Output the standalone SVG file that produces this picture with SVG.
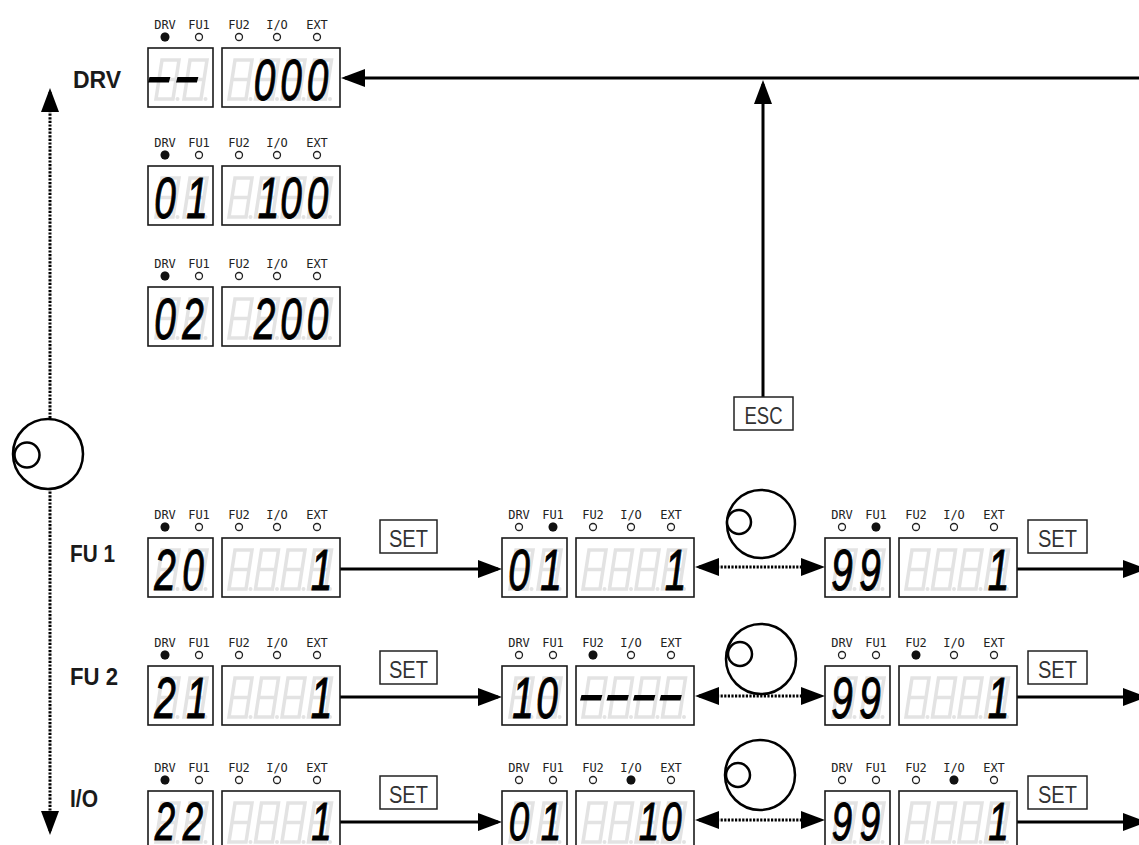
<svg xmlns="http://www.w3.org/2000/svg" width="1139" height="845" viewBox="0 0 1139 845">
<style>
.box{fill:none;stroke:#1a1a1a;stroke-width:1.6}
.led{font-family:"DejaVu Sans Mono","Liberation Mono",monospace;font-size:12px;fill:#222;text-anchor:middle}
.lh{fill:#fff;stroke:#222;stroke-width:1.3}
.lf{fill:#111}
.dig{font-family:"Liberation Sans",Arial,sans-serif;font-style:italic;font-size:57px;fill:#000;stroke:#000;stroke-width:1;text-anchor:middle}
.dig.low{font-size:54px}
.gh{fill:none;stroke:#e3e3e3;stroke-width:3.5}
.ghd{fill:#e3e3e3}
.key rect{fill:#fff;stroke:#222;stroke-width:1.5}
.key text{font-family:"Liberation Sans",Arial,sans-serif;font-size:24px;fill:#333}
.lbl{font-family:"Liberation Sans",Arial,sans-serif;font-weight:bold;font-size:23px;fill:#1a1a1a}
.dial circle{fill:#fff;stroke:#000;stroke-width:2.5}
.conn{fill:none;stroke:#000;stroke-width:3}
.dot{stroke-dasharray:2.2 1.4}
</style>
<defs>
<marker id="ah" viewBox="0 0 24 18" refX="20" refY="9" markerWidth="24" markerHeight="18" markerUnits="userSpaceOnUse" orient="auto-start-reverse"><path d="M0,0 L24,9 L0,18 z" fill="#000"/></marker>
<g id="g8"><path class="gh" d="M-3,-40 L14,-40 L8,-1 L-9,-1 Z M-6,-20.5 L11,-20.5"/><circle class="ghd" cx="12.5" cy="-1" r="2"/></g>
<g id="panel">
<rect class="box" x="0" y="0" width="65" height="59"/>
<rect class="box" x="74" y="0" width="118" height="59"/>
<use href="#g8" x="17" y="52"/><use href="#g8" x="45" y="52"/>
<use href="#g8" x="90" y="52"/><use href="#g8" x="116.5" y="52"/><use href="#g8" x="143" y="52"/><use href="#g8" x="169.5" y="52"/>
<circle class="lh" cx="17" cy="-11" r="3.5"/><circle class="lh" cx="51" cy="-11" r="3.5"/><circle class="lh" cx="91" cy="-11" r="3.5"/><circle class="lh" cx="129" cy="-11" r="3.5"/><circle class="lh" cx="169" cy="-11" r="3.5"/>
</g>
</defs>
<rect width="1139" height="845" fill="#fff"/>

<g id="connectors">
<path class="conn" d="M1139,78 L345,78" marker-end="url(#ah)"/>
<path class="conn" d="M763,397 L763,84" marker-end="url(#ah)"/>
<path class="conn dot" d="M50,92 L50,831" marker-start="url(#ah)" marker-end="url(#ah)"/>
<path class="conn" d="M340,569 L498,569" marker-end="url(#ah)"/>
<path class="conn dot" d="M699,567 L821,567" marker-start="url(#ah)" marker-end="url(#ah)"/>
<path class="conn" d="M1017,569 L1143,569" marker-end="url(#ah)"/>
<path class="conn" d="M340,697 L498,697" marker-end="url(#ah)"/>
<path class="conn dot" d="M699,696 L821,696" marker-start="url(#ah)" marker-end="url(#ah)"/>
<path class="conn" d="M1017,697 L1143,697" marker-end="url(#ah)"/>
<path class="conn" d="M340,822 L498,822" marker-end="url(#ah)"/>
<path class="conn dot" d="M699,820 L821,820" marker-start="url(#ah)" marker-end="url(#ah)"/>
<path class="conn" d="M1017,822 L1143,822" marker-end="url(#ah)"/>
</g>

<g id="labels">
<text class="lbl" x="73" y="88">DRV</text>
<text class="lbl" x="70" y="562" textLength="45" lengthAdjust="spacingAndGlyphs">FU 1</text>
<text class="lbl" x="70" y="685" textLength="48" lengthAdjust="spacingAndGlyphs">FU 2</text>
<text class="lbl" x="70" y="807" textLength="28" lengthAdjust="spacingAndGlyphs">I/O</text>
</g>

<g id="dial-main" class="dial"><circle cx="48" cy="454" r="35"/><circle cx="27" cy="455" r="12.5"/></g>
<g id="dial-fu1" class="dial"><circle cx="761" cy="524" r="34"/><circle cx="739" cy="522" r="12"/></g>
<g id="dial-fu2" class="dial"><circle cx="761" cy="659" r="35"/><circle cx="740" cy="654" r="12"/></g>
<g id="dial-io" class="dial"><circle cx="760" cy="775" r="35"/><circle cx="738" cy="775" r="12"/></g>

<g id="key-esc" class="key"><rect x="734" y="397" width="59" height="33"/><text x="744.5" y="423.5" textLength="38" lengthAdjust="spacingAndGlyphs">ESC</text></g>
<g id="key-set-fu1a" class="key"><rect x="380" y="520" width="57" height="33"/><text x="389" y="547" textLength="39" lengthAdjust="spacingAndGlyphs">SET</text></g>
<g id="key-set-fu1b" class="key"><rect x="1028" y="520" width="59" height="33"/><text x="1038" y="547" textLength="39" lengthAdjust="spacingAndGlyphs">SET</text></g>
<g id="key-set-fu2a" class="key"><rect x="380" y="651" width="57" height="33"/><text x="389" y="678" textLength="39" lengthAdjust="spacingAndGlyphs">SET</text></g>
<g id="key-set-fu2b" class="key"><rect x="1028" y="651" width="59" height="33"/><text x="1038" y="678" textLength="39" lengthAdjust="spacingAndGlyphs">SET</text></g>
<g id="key-set-ioa" class="key"><rect x="380" y="776" width="57" height="33"/><text x="389" y="803" textLength="39" lengthAdjust="spacingAndGlyphs">SET</text></g>
<g id="key-set-iob" class="key"><rect x="1028" y="776" width="59" height="33"/><text x="1038" y="803" textLength="39" lengthAdjust="spacingAndGlyphs">SET</text></g>

<g id="disp-drv-000" transform="translate(148,48)">
<use href="#panel"/>
<text class="led" y="-19"><tspan x="17">DRV</tspan><tspan x="51">FU1</tspan><tspan x="91">FU2</tspan><tspan x="129">I/O</tspan><tspan x="169">EXT</tspan></text>
<circle class="lf" cx="17" cy="-11" r="4.5"/>
<text class="dig" transform="scale(1.4 1)" y="47" x="7.14 27.14">--</text>
<text class="dig" transform="scale(0.68 1)" y="52" x="171.32 210.29 249.26">000</text>
</g>

<g id="disp-drv-01" transform="translate(148,166)">
<use href="#panel"/>
<text class="led" y="-19"><tspan x="17">DRV</tspan><tspan x="51">FU1</tspan><tspan x="91">FU2</tspan><tspan x="129">I/O</tspan><tspan x="169">EXT</tspan></text>
<circle class="lf" cx="17" cy="-11" r="4.5"/>
<text class="dig" transform="scale(0.68 1)" y="52" x="25 72.06">01</text>
<text class="dig" transform="scale(0.68 1)" y="52" x="177.21 210.29 249.26">100</text>
</g>

<g id="disp-drv-02" transform="translate(148,287)">
<use href="#panel"/>
<text class="led" y="-19"><tspan x="17">DRV</tspan><tspan x="51">FU1</tspan><tspan x="91">FU2</tspan><tspan x="129">I/O</tspan><tspan x="169">EXT</tspan></text>
<circle class="lf" cx="17" cy="-11" r="4.5"/>
<text class="dig" transform="scale(0.68 1)" y="52" x="25 66.18">02</text>
<text class="dig" transform="scale(0.68 1)" y="52" x="171.32 210.29 249.26">200</text>
</g>

<g id="disp-fu1-20" transform="translate(148,538)">
<use href="#panel"/>
<text class="led" y="-19"><tspan x="17">DRV</tspan><tspan x="51">FU1</tspan><tspan x="91">FU2</tspan><tspan x="129">I/O</tspan><tspan x="169">EXT</tspan></text>
<circle class="lf" cx="17" cy="-11" r="4.5"/>
<text class="dig" transform="scale(0.68 1)" y="52" x="25 66.18">20</text>
<text class="dig" transform="scale(0.68 1)" y="52" x="255.15">1</text>
</g>

<g id="disp-fu2-21" transform="translate(148,666)">
<use href="#panel"/>
<text class="led" y="-19"><tspan x="17">DRV</tspan><tspan x="51">FU1</tspan><tspan x="91">FU2</tspan><tspan x="129">I/O</tspan><tspan x="169">EXT</tspan></text>
<circle class="lf" cx="17" cy="-11" r="4.5"/>
<text class="dig" transform="scale(0.68 1)" y="52" x="25 72.06">21</text>
<text class="dig" transform="scale(0.68 1)" y="52" x="255.15">1</text>
</g>

<g id="disp-io-22" transform="translate(148,791)">
<use href="#panel"/>
<text class="led" y="-19"><tspan x="17">DRV</tspan><tspan x="51">FU1</tspan><tspan x="91">FU2</tspan><tspan x="129">I/O</tspan><tspan x="169">EXT</tspan></text>
<circle class="lf" cx="17" cy="-11" r="4.5"/>
<text class="dig low" transform="scale(0.68 1)" y="49" x="25 66.18">22</text>
<text class="dig low" transform="scale(0.68 1)" y="49" x="255.15">1</text>
</g>

<g id="disp-fu1-01" transform="translate(502,538)">
<use href="#panel"/>
<text class="led" y="-19"><tspan x="17">DRV</tspan><tspan x="51">FU1</tspan><tspan x="91">FU2</tspan><tspan x="129">I/O</tspan><tspan x="169">EXT</tspan></text>
<circle class="lf" cx="51" cy="-11" r="4.5"/>
<text class="dig" transform="scale(0.68 1)" y="52" x="25 72.06">01</text>
<text class="dig" transform="scale(0.68 1)" y="52" x="255.15">1</text>
</g>

<g id="disp-fu2-10" transform="translate(502,666)">
<use href="#panel"/>
<text class="led" y="-19"><tspan x="17">DRV</tspan><tspan x="51">FU1</tspan><tspan x="91">FU2</tspan><tspan x="129">I/O</tspan><tspan x="169">EXT</tspan></text>
<circle class="lf" cx="91" cy="-11" r="4.5"/>
<text class="dig" transform="scale(0.68 1)" y="52" x="30.88 66.18">10</text>
<text class="dig" transform="scale(1.4 1)" y="47" x="62.86 81.79 100.71 119.64">----</text>
</g>

<g id="disp-io-01" transform="translate(502,791)">
<use href="#panel"/>
<text class="led" y="-19"><tspan x="17">DRV</tspan><tspan x="51">FU1</tspan><tspan x="91">FU2</tspan><tspan x="129">I/O</tspan><tspan x="169">EXT</tspan></text>
<circle class="lf" cx="129" cy="-11" r="4.5"/>
<text class="dig low" transform="scale(0.68 1)" y="49" x="25 72.06">01</text>
<text class="dig low" transform="scale(0.68 1)" y="49" x="216.18 249.26">10</text>
</g>

<g id="disp-fu1-99" transform="translate(825,538)">
<use href="#panel"/>
<text class="led" y="-19"><tspan x="17">DRV</tspan><tspan x="51">FU1</tspan><tspan x="91">FU2</tspan><tspan x="129">I/O</tspan><tspan x="169">EXT</tspan></text>
<circle class="lf" cx="51" cy="-11" r="4.5"/>
<text class="dig" transform="scale(0.68 1)" y="52" x="25 66.18">99</text>
<text class="dig" transform="scale(0.68 1)" y="52" x="255.15">1</text>
</g>

<g id="disp-fu2-99" transform="translate(825,666)">
<use href="#panel"/>
<text class="led" y="-19"><tspan x="17">DRV</tspan><tspan x="51">FU1</tspan><tspan x="91">FU2</tspan><tspan x="129">I/O</tspan><tspan x="169">EXT</tspan></text>
<circle class="lf" cx="91" cy="-11" r="4.5"/>
<text class="dig" transform="scale(0.68 1)" y="52" x="25 66.18">99</text>
<text class="dig" transform="scale(0.68 1)" y="52" x="255.15">1</text>
</g>

<g id="disp-io-99" transform="translate(825,791)">
<use href="#panel"/>
<text class="led" y="-19"><tspan x="17">DRV</tspan><tspan x="51">FU1</tspan><tspan x="91">FU2</tspan><tspan x="129">I/O</tspan><tspan x="169">EXT</tspan></text>
<circle class="lf" cx="129" cy="-11" r="4.5"/>
<text class="dig low" transform="scale(0.68 1)" y="49" x="25 66.18">99</text>
<text class="dig low" transform="scale(0.68 1)" y="49" x="255.15">1</text>
</g>
</svg>
